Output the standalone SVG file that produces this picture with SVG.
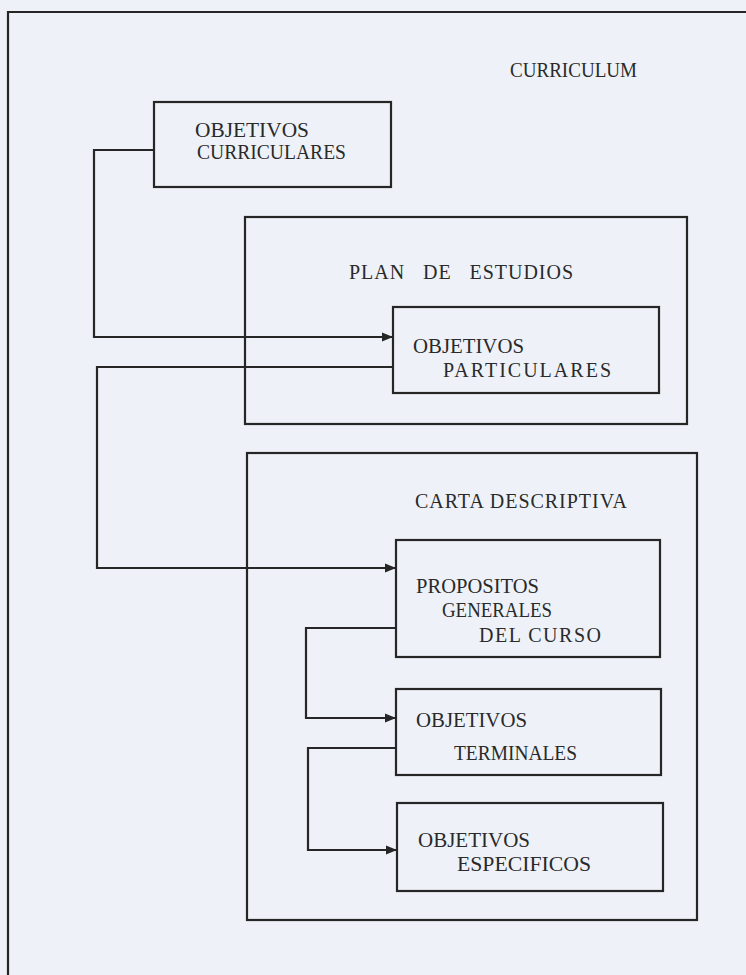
<svg xmlns="http://www.w3.org/2000/svg" width="746" height="975" viewBox="0 0 746 975">
<defs>
<style>
.box{fill:none;stroke:#262626;stroke-width:2.2}
.frame{fill:none;stroke:#262626;stroke-width:2.2}
.con{fill:none;stroke:#262626;stroke-width:2.2}
text{font-family:"Liberation Serif","DejaVu Serif",serif;font-size:20px;fill:#2a2a2a}
</style>
<marker id="arr" viewBox="0 0 10 10" refX="10" refY="5" markerWidth="5" markerHeight="5" orient="auto" markerUnits="strokeWidth">
<path d="M0,1 L10,5 L0,9 Z" fill="#262626"/>
</marker>
</defs>
<rect width="746" height="975" fill="#eef2f8"/>
<g id="curriculum">
<path class="frame" d="M8,975 V12 H746"/>
<text x="510" y="77" textLength="127" lengthAdjust="spacingAndGlyphs">CURRICULUM</text>
</g>
<g id="objetivos-curriculares">
<rect class="box" x="154" y="102" width="237" height="85"/>
<text x="195" y="137" textLength="114" lengthAdjust="spacingAndGlyphs">OBJETIVOS</text>
<text x="197" y="159" textLength="149" lengthAdjust="spacingAndGlyphs">CURRICULARES</text>
</g>
<g id="plan-de-estudios">
<rect class="box" x="245" y="217" width="442" height="207"/>
<text x="349" y="279" textLength="224" lengthAdjust="spacing" word-spacing="12">PLAN DE ESTUDIOS</text>
</g>
<g id="objetivos-particulares">
<rect class="box" x="393" y="307" width="266" height="86"/>
<text x="413" y="353" textLength="111" lengthAdjust="spacingAndGlyphs">OBJETIVOS</text>
<text x="443" y="377" textLength="168" lengthAdjust="spacing">PARTICULARES</text>
</g>
<g id="carta-descriptiva">
<rect class="box" x="247" y="453" width="450" height="467"/>
<text x="415" y="508" textLength="212" lengthAdjust="spacing">CARTA DESCRIPTIVA</text>
</g>
<g id="propositos-generales">
<rect class="box" x="396" y="540" width="264" height="117"/>
<text x="416" y="593" textLength="123" lengthAdjust="spacingAndGlyphs">PROPOSITOS</text>
<text x="442" y="617" textLength="110" lengthAdjust="spacingAndGlyphs">GENERALES</text>
<text x="479" y="642" textLength="122" lengthAdjust="spacing">DEL CURSO</text>
</g>
<g id="objetivos-terminales">
<rect class="box" x="396" y="689" width="265" height="86"/>
<text x="416" y="727" textLength="111" lengthAdjust="spacingAndGlyphs">OBJETIVOS</text>
<text x="454" y="760" textLength="123" lengthAdjust="spacingAndGlyphs">TERMINALES</text>
</g>
<g id="objetivos-especificos">
<rect class="box" x="397" y="803" width="266" height="88"/>
<text x="418" y="847" textLength="112" lengthAdjust="spacingAndGlyphs">OBJETIVOS</text>
<text x="457" y="871" textLength="134" lengthAdjust="spacingAndGlyphs">ESPECIFICOS</text>
</g>
<g id="connectors">
<path class="con" marker-end="url(#arr)" d="M154,150 H94 V337 H393"/>
<path class="con" marker-end="url(#arr)" d="M393,367 H97 V568 H396"/>
<path class="con" marker-end="url(#arr)" d="M396,628 H306 V718 H396"/>
<path class="con" marker-end="url(#arr)" d="M396,748 H308 V850 H397"/>
</g>
</svg>
